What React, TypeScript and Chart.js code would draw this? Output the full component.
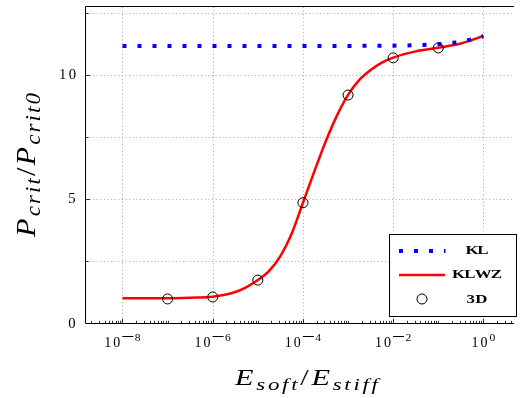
import React, { useEffect, useRef } from "react";
import { Chart, registerables } from "chart.js";

Chart.register(...registerables);

// ---- data ----
const klX = [1e-8, 1e-6, 1e-4, 1e-3, 1e-2, 10 ** -1.5, 1e-1, 10 ** -0.5, 1];
const klY = [11.17, 11.17, 11.17, 11.17, 11.18, 11.2, 11.24, 11.33, 11.56];

const klwzX = [
  1e-8, 1e-7, 10 ** -6.5, 1e-6, 10 ** -5.5, 10 ** -5.25, 1e-5, 10 ** -4.75, 10 ** -4.5,
  10 ** -4.25, 1e-4, 10 ** -3.75, 10 ** -3.5, 10 ** -3.25, 1e-3, 10 ** -2.75, 10 ** -2.5,
  10 ** -2.25, 1e-2, 10 ** -1.5, 1e-1, 10 ** -0.5, 1,
];
const klwzY = [
  1.0, 1.0, 1.02, 1.06, 1.25, 1.45, 1.73, 2.1, 2.7,
  3.6, 4.85, 6.1, 7.3, 8.35, 9.2, 9.8, 10.2,
  10.5, 10.7, 10.95, 11.1, 11.27, 11.57,
];

const d3X = [1e-7, 1e-6, 1e-5, 1e-4, 1e-3, 1e-2, 1e-1];
const d3Y = [0.97, 1.05, 1.73, 4.85, 9.19, 10.69, 11.09];

const xTickExps = [-8, -6, -4, -2, 0];
const yTickLabels = [0, 5, 10];
const yGridValues = [2.5, 5, 7.5, 10, 12.5];
const legendLabels = ["KL", "KLWZ", "3D"];

const X_MIN = 10 ** -8.809;
const X_MAX = 10 ** 0.678;
const Y_MIN = 0;
const Y_MAX = 12.74;

const SERIF = "'Liberation Serif', serif";

type Piece = { t: string; font: string; dy: number };

// draws text char by char: glyphs scaled by gs along the reading direction,
// with extra even spacing so the whole run spans targetLen; centered at (ax, ay)
function drawSpaced(
  ctx: CanvasRenderingContext2D,
  pieces: Piece[],
  ax: number,
  ay: number,
  angle: number,
  targetLen: number,
  gs: number,
  cross: number
) {
  ctx.save();
  const chars: { c: string; font: string; dy: number; w: number }[] = [];
  let natural = 0;
  for (const p of pieces) {
    ctx.font = p.font;
    for (const c of p.t) {
      const w = ctx.measureText(c).width * gs;
      chars.push({ c, font: p.font, dy: p.dy, w });
      natural += w;
    }
  }
  const gap = chars.length > 1 ? (targetLen - natural) / (chars.length - 1) : 0;
  const total = chars.length > 1 ? targetLen : natural;
  ctx.translate(ax, ay);
  ctx.rotate(angle);
  ctx.textBaseline = "alphabetic";
  ctx.textAlign = "left";
  let x = -total / 2;
  for (const ch of chars) {
    ctx.save();
    ctx.translate(x, ch.dy * cross);
    ctx.scale(gs, cross);
    ctx.font = ch.font;
    ctx.fillText(ch.c, 0, 0);
    ctx.restore();
    x += ch.w + gap;
  }
  ctx.restore();
}

const decorPlugin = {
  id: "decor",
  beforeDatasetsDraw(chart: any) {
    const { ctx, chartArea } = chart;
    const { left, right, top, bottom } = chartArea;
    const xs = chart.scales.x;
    const ys = chart.scales.y;
    ctx.save();
    ctx.strokeStyle = "#a8a8a8";
    ctx.lineWidth = 1;
    ctx.setLineDash([1, 2.6]);
    for (const v of yGridValues) {
      const py = Math.round(ys.getPixelForValue(v)) + 0.5;
      ctx.beginPath();
      ctx.moveTo(left, py);
      ctx.lineTo(right, py);
      ctx.stroke();
    }
    for (const e of xTickExps) {
      const px = Math.round(xs.getPixelForValue(10 ** e)) + 0.5;
      ctx.beginPath();
      ctx.moveTo(px, top);
      ctx.lineTo(px, bottom);
      ctx.stroke();
    }
    ctx.restore();
  },
  afterDatasetsDraw(chart: any) {
    const { ctx, chartArea } = chart;
    const { left, right, top, bottom } = chartArea;
    const xs = chart.scales.x;
    const ys = chart.scales.y;
    ctx.save();
    // frame
    ctx.strokeStyle = "#000";
    ctx.lineWidth = 1;
    ctx.setLineDash([]);
    ctx.beginPath();
    ctx.moveTo(right, top - 0.5);
    ctx.lineTo(left - 0.5, top - 0.5);
    ctx.lineTo(left - 0.5, bottom + 0.5);
    ctx.lineTo(right, bottom + 0.5);
    ctx.stroke();

    // x ticks (bottom)
    ctx.lineWidth = 0.8;
    for (let e = -9; e <= 0; e++) {
      for (let m = 1; m <= 9; m++) {
        const v = m * 10 ** e;
        if (v < X_MIN || v > X_MAX) continue;
        const px = Math.round(xs.getPixelForValue(v)) + 0.5;
        const major = m === 1 && xTickExps.includes(e);
        const len = major ? 4 : 2.2;
        ctx.beginPath();
        ctx.moveTo(px, bottom);
        ctx.lineTo(px, bottom - len);
        ctx.stroke();
      }
    }
    // y ticks
    for (const v of [0, 2.5, 5, 7.5, 10, 12.5]) {
      const py = Math.round(ys.getPixelForValue(v)) + 0.5;
      const len = v % 5 === 0 ? 4 : 2.5;
      ctx.beginPath();
      ctx.moveTo(left, py);
      ctx.lineTo(left + len, py);
      ctx.stroke();
    }

    // x tick labels: 10^e
    ctx.fillStyle = "#000";
    ctx.textAlign = "left";
    ctx.textBaseline = "alphabetic";
    for (const e of xTickExps) {
      const px = xs.getPixelForValue(10 ** e);
      const baseW = 16;
      ctx.font = `10.5px ${SERIF}`;
      const digit = String(Math.abs(e));
      const wDig = ctx.measureText(digit).width * 1.1;
      const minusW = e < 0 ? 11 : 0;
      const gap = 2;
      const total = baseW + gap + minusW + (e < 0 ? 1.5 : 0) + wDig;
      const x0 = px - total / 2;
      drawSpaced(ctx, [{ t: "10", font: `14px ${SERIF}`, dy: 0 }], x0 + baseW / 2, 347, 0, baseW, 1, 1);
      let xe = x0 + baseW + gap;
      if (e < 0) {
        ctx.fillRect(xe, 336, minusW, 1);
        xe += minusW + 1.5;
      }
      ctx.save();
      ctx.translate(xe, 340.5);
      ctx.scale(1.1, 1);
      ctx.font = `10.5px ${SERIF}`;
      ctx.fillText(digit, 0, 0);
      ctx.restore();
    }

    // y tick labels
    for (const v of yTickLabels) {
      const py = ys.getPixelForValue(v);
      const s = String(v);
      const w = s.length === 2 ? 17 : 8;
      drawSpaced(ctx, [{ t: s, font: `14px ${SERIF}`, dy: 0 }], 76 - w / 2, py + 4.5, 0, w, 1.05, 1);
    }

    // axis titles
    const mainF = `italic 22.5px ${SERIF}`;
    const subF = `italic 17px ${SERIF}`;
    const upF = `22.5px ${SERIF}`;
    drawSpaced(
      ctx,
      [
        { t: "E", font: mainF, dy: 0 },
        { t: "soft", font: subF, dy: 4.5 },
        { t: "/", font: upF, dy: 0 },
        { t: "E", font: mainF, dy: 0 },
        { t: "stiff", font: subF, dy: 4.5 },
      ],
      306.5,
      385,
      0,
      143,
      1.35,
      1
    );
    drawSpaced(
      ctx,
      [
        { t: "P", font: mainF, dy: 0 },
        { t: "crit", font: subF, dy: 4.5 },
        { t: "/", font: upF, dy: 0 },
        { t: "P", font: mainF, dy: 0 },
        { t: "crit0", font: subF, dy: 4.5 },
      ],
      35,
      165,
      -Math.PI / 2,
      144,
      1.35,
      1.2
    );

    // legend
    ctx.fillStyle = "#fff";
    ctx.fillRect(389.5, 234.5, 127, 82);
    ctx.strokeStyle = "#000";
    ctx.lineWidth = 1;
    ctx.strokeRect(389.5, 234.5, 127, 82);

    // KL sample
    ctx.fillStyle = "#0000ff";
    for (const dx of [399, 414, 429, 444]) {
      ctx.fillRect(dx, 249, dx === 444 ? 1.5 : 4, 4);
    }
    // KLWZ sample
    ctx.strokeStyle = "#ff0000";
    ctx.lineWidth = 2.5;
    ctx.setLineDash([]);
    ctx.beginPath();
    ctx.moveTo(399, 275);
    ctx.lineTo(445, 275);
    ctx.stroke();
    // 3D sample
    ctx.strokeStyle = "#000";
    ctx.lineWidth = 1;
    ctx.beginPath();
    ctx.arc(422, 299, 5, 0, Math.PI * 2);
    ctx.stroke();

    ctx.fillStyle = "#000";
    const legTargets = [23, 50, 21];
    const legBase = [254, 278, 303];
    legendLabels.forEach((lab, i) => {
      drawSpaced(
        ctx,
        [{ t: lab, font: `bold 12.5px ${SERIF}`, dy: 0 }],
        477,
        legBase[i],
        0,
        legTargets[i],
        1.35,
        1
      );
    });
    ctx.restore();
  },
};

export default function App() {
  const canvasRef = useRef<HTMLCanvasElement | null>(null);

  useEffect(() => {
    document.body.style.margin = "0";
    const canvas = canvasRef.current;
    if (!canvas) return;
    let alive = true;
    const chart = new Chart(canvas, {
      type: "line",
      data: {
        datasets: [
          {
            label: "3D",
            data: d3X.map((x, i) => ({ x, y: d3Y[i] })),
            showLine: false,
            pointStyle: "circle",
            pointRadius: 5,
            pointBorderWidth: 1,
            pointBorderColor: "#000",
            pointBackgroundColor: "rgba(0,0,0,0)",
            borderColor: "#000",
            order: 0,
          },
          {
            label: "KL",
            data: klX.map((x, i) => ({ x, y: klY[i] })),
            borderColor: "#0000ff",
            borderWidth: 4,
            borderDash: [4, 11],
            borderCapStyle: "butt",
            pointRadius: 0,
            tension: 0,
            order: 1,
          },
          {
            label: "KLWZ",
            data: klwzX.map((x, i) => ({ x, y: klwzY[i] })),
            borderColor: "#ff0000",
            borderWidth: 2.5,
            cubicInterpolationMode: "monotone",
            pointRadius: 0,
            order: 2,
          },
        ],
      } as any,
      options: {
        animation: false,
        responsive: false,
        maintainAspectRatio: false,
        layout: { padding: { left: 86, top: 7, right: 0, bottom: 75 } },
        plugins: { legend: { display: false }, tooltip: { enabled: false } },
        events: [],
        scales: {
          x: { type: "logarithmic", min: X_MIN, max: X_MAX, display: false },
          y: { type: "linear", min: Y_MIN, max: Y_MAX, display: false },
        },
      } as any,
      plugins: [decorPlugin],
    });
    const fonts = [
      `14px 'Liberation Serif'`,
      `italic 22px 'Liberation Serif'`,
      `bold 12px 'Liberation Serif'`,
    ];
    Promise.all(fonts.map((f) => (document as any).fonts.load(f)))
      .catch(() => null)
      .then(() => {
        if (alive) chart.update();
      });
    return () => {
      alive = false;
      chart.destroy();
    };
  }, []);

  return (
    <div style={{ width: 520, height: 398 }}>
      <canvas ref={canvasRef} width={520} height={398} style={{ display: "block" }} />
    </div>
  );
}
